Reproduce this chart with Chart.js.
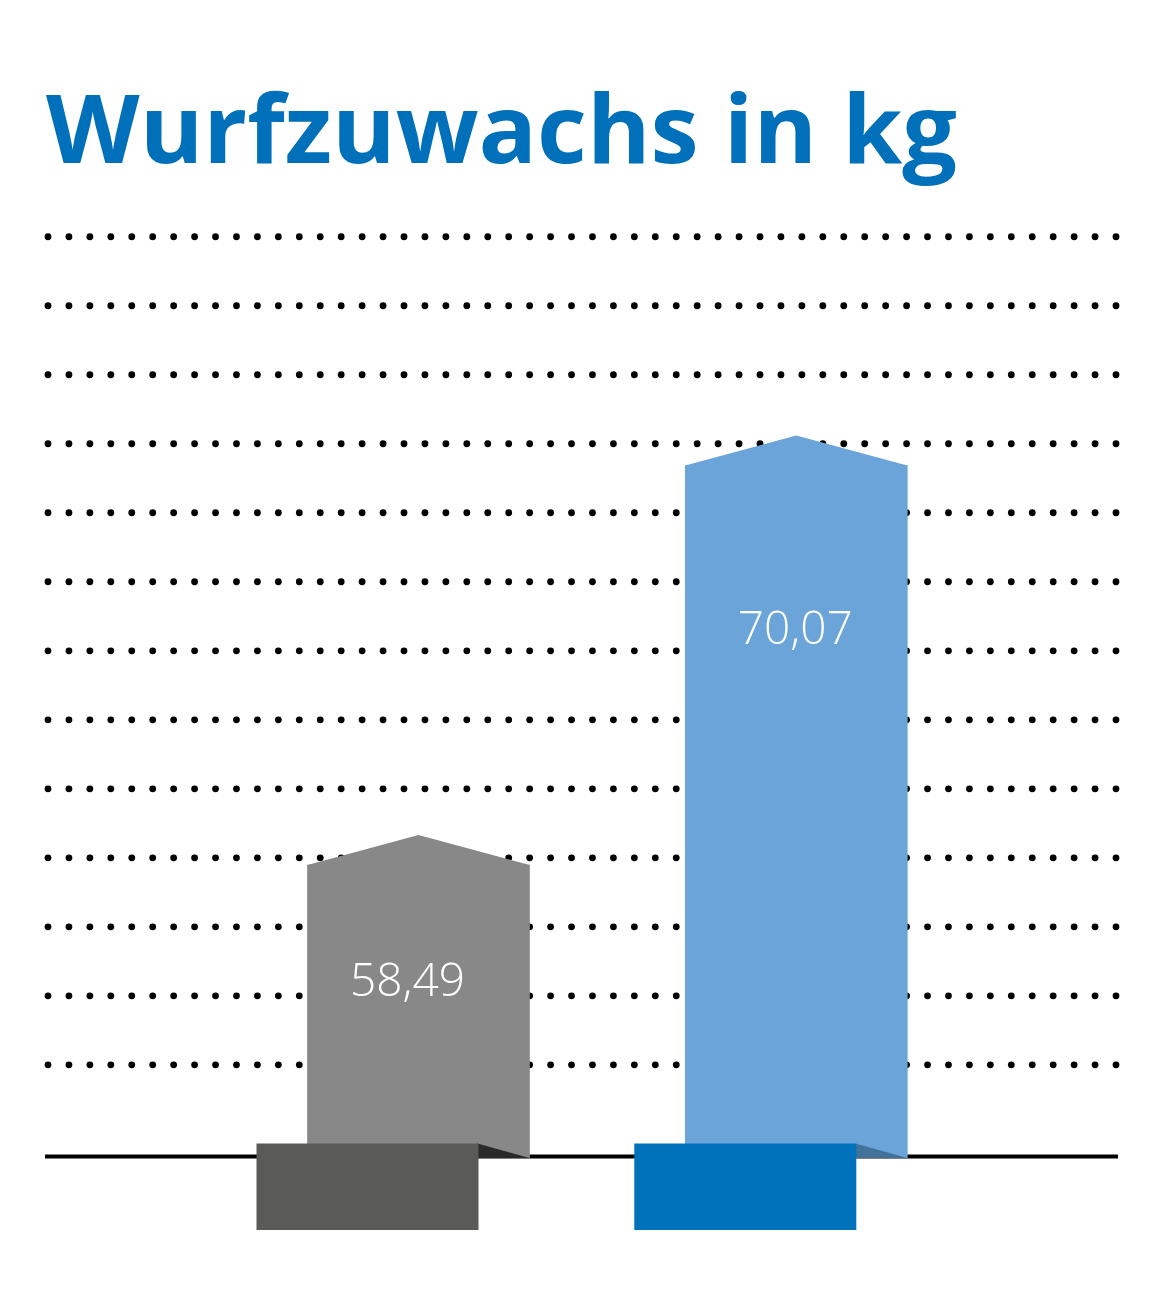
<!DOCTYPE html>
<html>
<head>
<meta charset="utf-8">
<script src="https://cdn.jsdelivr.net/npm/chart.js@4/dist/chart.umd.min.js"></script>
<style>
  html, body { margin: 0; padding: 0; background: #fff; }
  #wrap { width: 1164px; height: 1300px; position: relative; }
</style>
</head>
<body>
<div id="wrap"><canvas id="canvas"></canvas></div>
<script>
const titleText = "Wurfzuwachs in kg";
const groups = ["Gruppe 1", "Gruppe 2"];
const gains = [58.49, 70.07];
const gainLabels = ["58,49", "70,07"];
const gridTicks = [52.7, 54.7, 56.7, 58.7, 60.7, 62.7, 64.7, 66.7, 68.7, 70.7, 72.7, 74.7, 76.7];

// styling
const barColors = ["#888888", "#6aa4d8"];
const blockColors = ["#5a5a58", "#0072bc"];
const shadowColors = ["#2a2a2a", "#42729a"];
const labelNudgeX = [-11, -1];
const labelDrop = [131, 179];

const canvas = document.querySelector("#canvas");

const decorPlugin = {
  id: "decor",
  beforeDatasetsDraw(chart) {
    const ctx = chart.ctx;
    const y = chart.scales.y;
    const area = chart.chartArea;
    ctx.save();
    // dotted rows
    ctx.fillStyle = "#000";
    const first = 48, last = 1116, n = 52;
    gridTicks.forEach((v) => {
      const py = y.getPixelForValue(v);
      for (let i = 0; i < n; i++) {
        const px = first + (i * (last - first)) / (n - 1);
        ctx.beginPath();
        ctx.arc(px, py, 3.4, 0, Math.PI * 2);
        ctx.fill();
      }
    });
    // base line
    ctx.fillRect(45, area.bottom - 3.5, 1073, 4);
    ctx.restore();
  },
  afterDatasetsDraw(chart) {
    const ctx = chart.ctx;
    const area = chart.chartArea;
    const base = area.bottom;
    const meta = chart.getDatasetMeta(0);
    ctx.save();
    meta.data.forEach((bar, i) => {
      const w = bar.width;
      const left = bar.x - w / 2;
      const right = bar.x + w / 2;
      // arrow cap
      ctx.fillStyle = barColors[i];
      ctx.beginPath();
      ctx.moveTo(left, bar.y + 1);
      ctx.lineTo(left, bar.y);
      ctx.lineTo(bar.x, bar.y - 30);
      ctx.lineTo(right, bar.y);
      ctx.lineTo(right, bar.y + 1);
      ctx.closePath();
      ctx.fill();
      // foot block with shadow
      const bl = left - 51, br = right - 51;
      const top = base - 14.5, bottom = base + 72;
      ctx.fillStyle = shadowColors[i];
      ctx.beginPath();
      ctx.moveTo(br - 1, top);
      ctx.lineTo(right, base);
      ctx.lineTo(br - 1, base);
      ctx.closePath();
      ctx.fill();
      ctx.fillStyle = blockColors[i];
      ctx.fillRect(bl, top, br - bl, bottom - top);
      // value label
      ctx.fillStyle = "#ffffff";
      ctx.font = "300 46px 'Open Sans', Lato, sans-serif";
      ctx.textAlign = "center";
      ctx.textBaseline = "alphabetic";
      ctx.fillText(gainLabels[i], bar.x + labelNudgeX[i], bar.y + labelDrop[i]);
    });
    // title, fitted to the reference width
    ctx.fillStyle = "#0070ba";
    ctx.font = "bold 95px 'Open Sans', 'Liberation Sans', sans-serif";
    ctx.textAlign = "left";
    const tw = ctx.measureText(titleText).width;
    ctx.translate(46, 163);
    ctx.scale(911 / tw, 1);
    ctx.fillText(titleText, 0, 0);
    ctx.restore();
  },
};

const chart = new Chart(canvas.getContext("2d"), {
  type: "bar",
  data: {
    labels: groups,
    datasets: [
      {
        label: titleText,
        data: gains,
        backgroundColor: barColors,
        borderWidth: 0,
        barThickness: 222,
      },
    ],
  },
  options: {
    responsive: true,
    maintainAspectRatio: false,
    animation: false,
    devicePixelRatio: 1,
    layout: { padding: { left: 229.6, right: 178.8, top: 235, bottom: 142 } },
    plugins: { legend: { display: false }, tooltip: { enabled: false }, title: { display: false } },
    scales: {
      x: { display: false, offset: true },
      y: { display: false, min: 50, max: 76.75 },
    },
  },
  plugins: [decorPlugin],
});
</script>
</body>
</html>
